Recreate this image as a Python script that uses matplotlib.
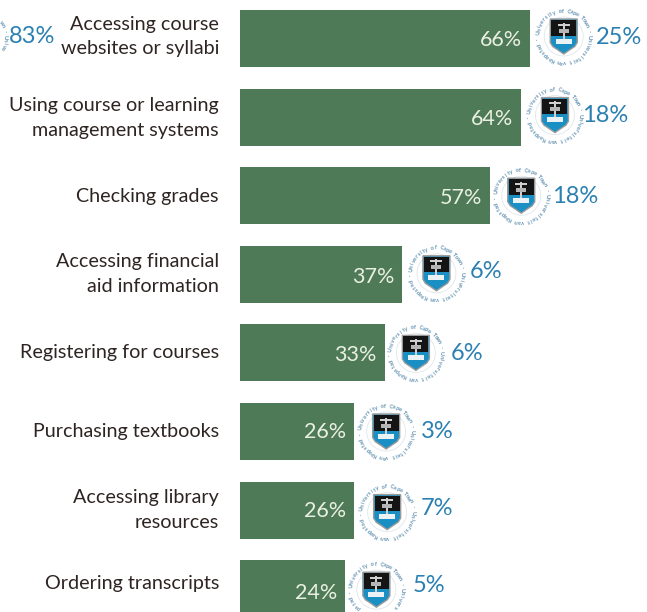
import math
import matplotlib
matplotlib.use("Agg")
import matplotlib.pyplot as plt
from matplotlib.patches import Circle, Polygon, Rectangle

categories = ["Accessing course\nwebsites or syllabi",
              "Using course or learning\nmanagement systems",
              "Checking grades",
              "Accessing financial\naid information",
              "Registering for courses",
              "Purchasing textbooks",
              "Accessing library\nresources",
              "Ordering transcripts"]
all_students = [66, 64, 57, 37, 33, 26, 26, 24]
uct_students = [25, 18, 18, 6, 6, 3, 7, 5]
first_uct_value = 83

# small placement nudges for the seal and its number, in pixels
seal_dx = [34, 34, 31, 34, 31, 32, 33, 31]
seal_dy = [-2, -2, 0, -1, 0, 0, 2, 1]
label_dx = [32, 27, 31, 33, 35, 35, 34, 36]
label_dy = [-1, -2, 1, -3, 1, 0, -2, -3]
cat_dy = [-2, 1, 1, 0, 0, 0, 0, -5]
val_dy = [1, 2, 2, 3, 2, 1, 1, 4]

BAR = "#4f7a57"
BLUE = "#2b80b2"
TEXT = "#2e2523"
RING = "#5d8fb0"
FONT = ["Lato", "DejaVu Sans"]
RING_TEXT = "University of Cape Town \u00b7 Universiteit van Kaapstad \u00b7 "

plt.rcParams["font.family"] = FONT

fig = plt.figure(figsize=(6.47, 6.12), dpi=100)
ax = fig.add_axes([0, 0, 1, 1])
ax.set_xlim(-240 / 4.39, (647 - 240) / 4.39)
ax.set_ylim((612 - 38.5) / 78.6, -38.5 / 78.6)
ax.axis("off")

ypos = list(range(len(categories)))
ax.barh(ypos, all_students, height=0.725, color=BAR)

# overlay in pixels, for the things that sit a fixed distance from the bars
over = fig.add_axes([0, 0, 1, 1])
over.set_xlim(0, 647)
over.set_ylim(612, 0)
over.axis("off")
over.patch.set_alpha(0)


def to_px(x, y):
    return over.transData.inverted().transform(ax.transData.transform((x, y)))


def draw_seal(cx, cy):
    over.add_patch(Circle((cx, cy), 28.5, fc="white", ec="none", zorder=2))
    over.add_patch(Circle((cx, cy), 19.5, fc="none", ec="#dfe6ea", lw=0.6, zorder=2))
    step = 360.0 / len(RING_TEXT)
    for k, ch in enumerate(RING_TEXT):
        a = math.radians(172 - k * step)
        tx = cx + 25.5 * math.cos(a)
        ty = cy - 25.5 * math.sin(a)
        if tx < 1 or ty > 608:
            continue
        over.text(tx, ty, ch, rotation=math.degrees(a) - 90, rotation_mode="anchor",
                  ha="center", va="center", fontsize=4.0, color=RING,
                  fontweight="bold", zorder=3)
    # shield
    w, t, m = 13.5, -17.5, -1
    outline = [(cx - w, cy + t), (cx + w, cy + t), (cx + w, cy + 6), (cx + 11, cy + 10),
               (cx + 5, cy + 14), (cx, cy + 17.5), (cx - 5, cy + 14), (cx - 11, cy + 10), (cx - w, cy + 6)]
    over.add_patch(Polygon(outline, closed=True, fc="#1a8fc4", ec="#9a9a9a", lw=1.0, zorder=3))
    over.add_patch(Rectangle((cx - w + 1, cy + t + 1), 2 * w - 2, m - t - 1, fc="#141414", ec="none", zorder=4))
    # anchor and book
    over.add_patch(Rectangle((cx - 1, cy - 14), 2, 20, fc="#cfcfcf", ec="none", zorder=5))
    over.add_patch(Rectangle((cx - 6, cy - 13), 12, 2, fc="#cfcfcf", ec="none", zorder=5))
    over.add_patch(Rectangle((cx - 5, cy - 8), 10, 4, fc="#b5b5b5", ec="none", zorder=5))
    over.add_patch(Rectangle((cx - 8, cy + 2), 16, 5, fc="#eaf2f6", ec="none", zorder=5))


for i, (label, val, uct) in enumerate(zip(categories, all_students, uct_students)):
    ax.annotate(label, (0, i), xytext=(-21, -cat_dy[i]), textcoords="offset pixels",
                ha="right", va="center", fontsize=14.2, color=TEXT, linespacing=1.55)
    ax.annotate(f"{val}%", (val, i), xytext=(-8, -val_dy[i]), textcoords="offset pixels",
                ha="right", va="center", fontsize=15.5, color="#e9f0e2")
    ex, ey = to_px(val, i)
    draw_seal(ex + seal_dx[i], ey + seal_dy[i])
    over.text(ex + seal_dx[i] + label_dx[i], ey + label_dy[i], f"{uct}%",
              ha="left", va="center", fontsize=17, color=BLUE, zorder=6)

# the cropped seal and number on the far left, first row
ex, ey = to_px(0, 0)
draw_seal(ex - 260, ey - 2)
over.text(ex - 231, ey - 2, f"{first_uct_value}%", ha="left", va="center",
          fontsize=17, color=BLUE, zorder=6)

fig.savefig("out.png", dpi=100, facecolor="white")
